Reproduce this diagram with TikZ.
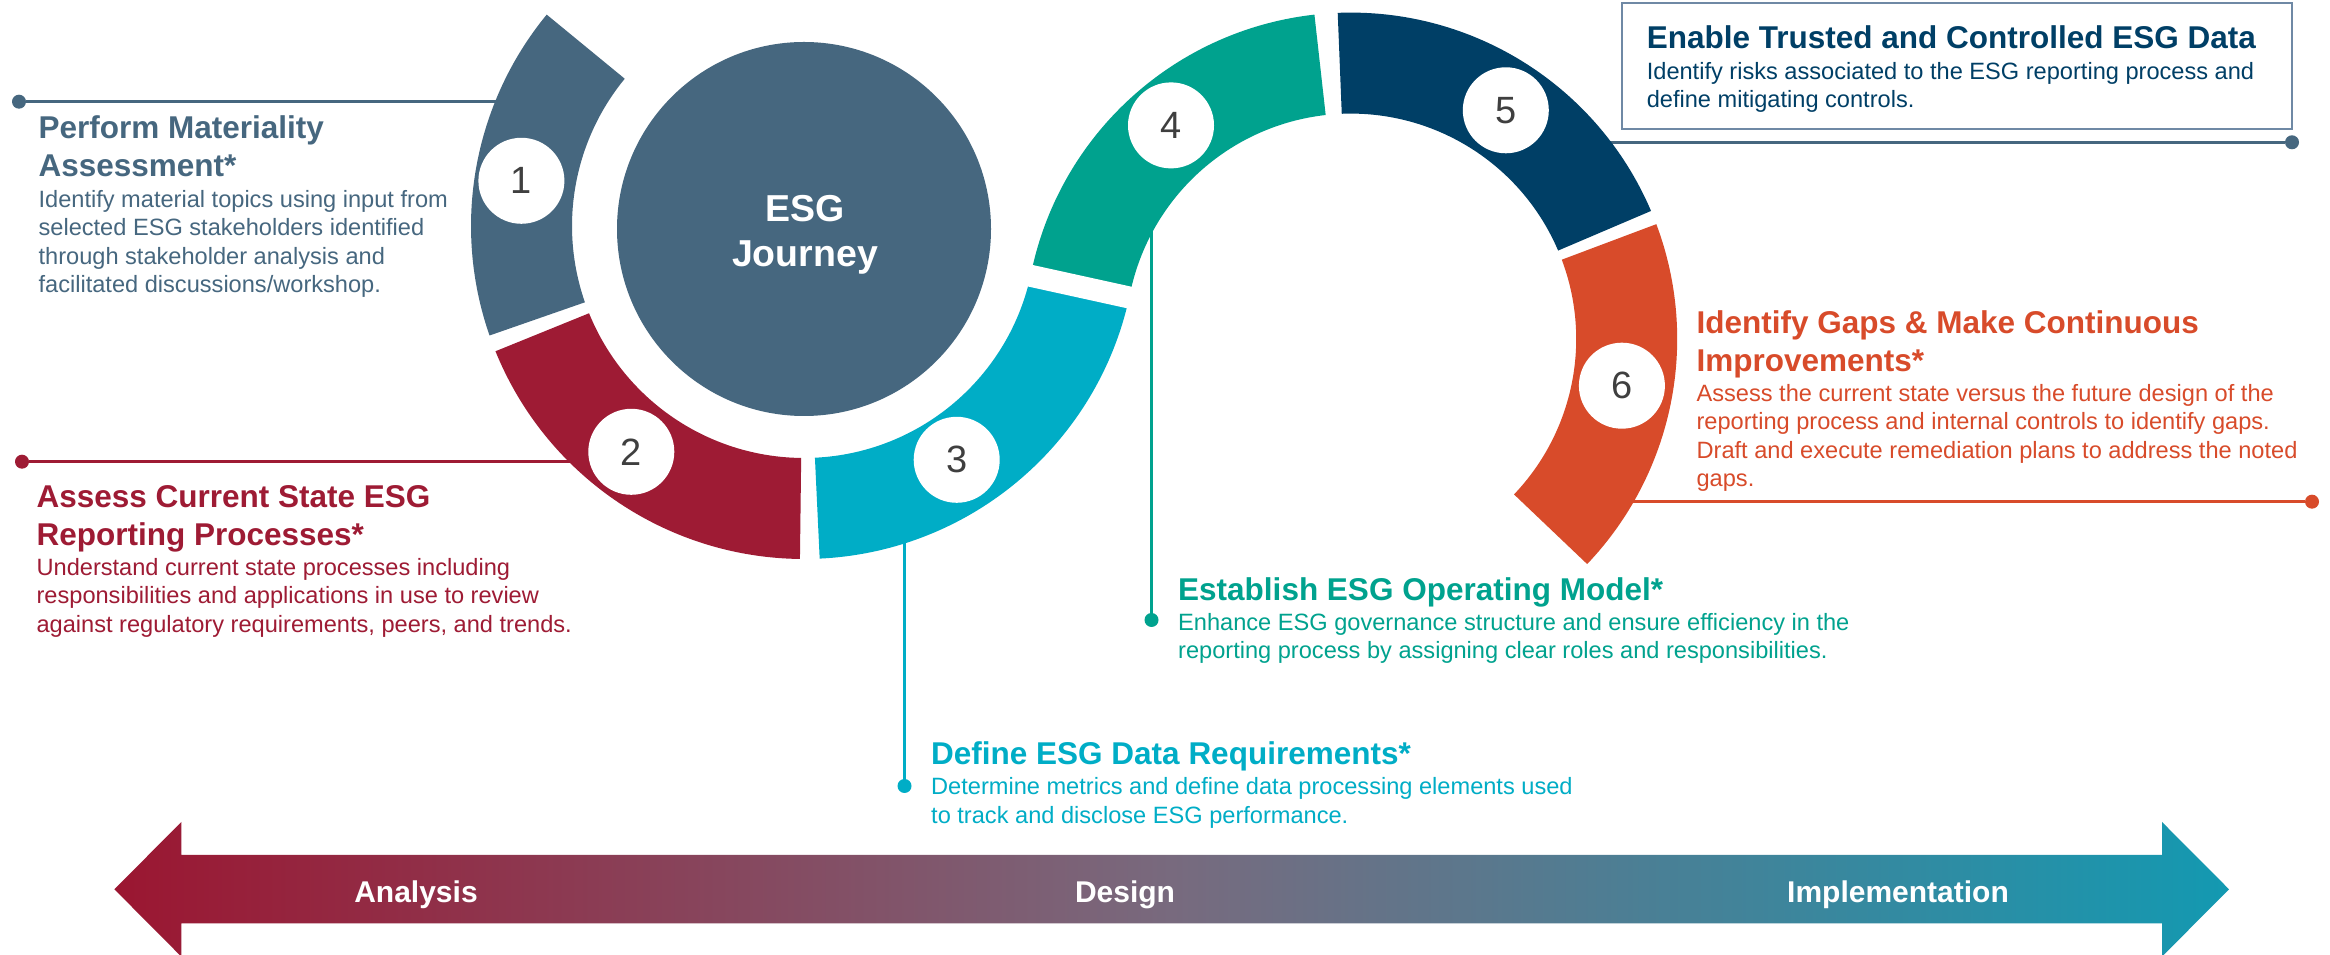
\documentclass[tikz,border=0pt]{standalone}
\usepackage{fontspec}
\setmainfont{Liberation Sans}
\usetikzlibrary{calc}
\definecolor{slate}{HTML}{46677F}
\definecolor{crim}{HTML}{9E1B34}
\definecolor{cyanc}{HTML}{00ADC6}
\definecolor{tealc}{HTML}{00A28E}
\definecolor{navyc}{HTML}{003F66}
\definecolor{orng}{HTML}{D84B2A}
\definecolor{boxc}{HTML}{6F89A5}
\definecolor{numg}{HTML}{3F3F3F}
\definecolor{arL}{HTML}{9B1631}
\definecolor{arM}{HTML}{786A7E}
\definecolor{arR}{HTML}{1399B1}
% #1 colour, #2 centre, #3 inner r, #4 outer r, #5 start angle, #6 end angle
\newcommand\ringseg[6]{\fill[#1] ($(#2)+(#5:#4pt)$) arc[start angle=#5,end angle=#6,radius=#4pt] -- ($(#2)+(#6:#3pt)$) arc[start angle=#6,end angle=#5,radius=#3pt] -- cycle;}
\newcommand\lines[1]{\begin{tabular}[t]{@{}l@{}}#1\end{tabular}}
\begin{document}
\begin{tikzpicture}[x=1pt,y=1pt,
  ttl/.style={anchor=base west, inner sep=0pt, font=\fontsize{31.5}{38.2}\selectfont\bfseries},
  bdy/.style={anchor=base west, inner sep=0pt, font=\fontsize{23.6}{28.3}\selectfont},
  numc/.style={circle, fill=white, minimum size=86pt, inner sep=0pt, text=numg, font=\fontsize{38}{38}\selectfont},
  dotc/.style={circle, minimum size=14pt, inner sep=0pt},
  conn/.style={line width=2.6pt},
  lbl/.style={text=white, inner sep=0pt, anchor=base, font=\fontsize{30}{30}\selectfont\bfseries}
]
\fill[white] (0,0) rectangle (2330,955);
\useasboundingbox (0,0) rectangle (2330,955);
\coordinate (c1) at (804,729);
\coordinate (c2) at (1350.8,616);

% timeline arrow
\path[left color=arL, right color=arR, middle color=arM]
  (114.4,65.7) -- (181.3,133) -- (181.3,100) -- (2162,100) -- (2162,133) -- (2229,65.7)
  -- (2162,-1.6) -- (2162,31.7) -- (181.3,31.7) -- (181.3,-1.6) -- cycle;
\node[lbl] (an) at (416,52.3) {Analysis};
\node[lbl] (de) at (1125,52.3) {Design};
\node[lbl] (im) at (1898,52.3) {Implementation};

% connectors (behind the ring)
\node[dotc, fill=slate] (d1) at (19,853.3) {};
\coordinate (r1) at (520,853.3);
\draw[conn, slate] (r1) -- (d1);
\node[dotc, fill=crim] (d2) at (22,493.3) {};
\coordinate (r2) at (600,493.3);
\draw[conn, crim] (r2) -- (d2);
\node[dotc, fill=cyanc] (d3) at (904.5,169) {};
\coordinate (r3) at (904.5,430);
\draw[conn, cyanc] (r3) -- (d3);
\node[dotc, fill=tealc] (d4) at (1151.5,335) {};
\coordinate (r4) at (1151.5,760);
\draw[conn, tealc] (r4) -- (d4);
\node[dotc, fill=slate] (d5) at (2292,812.7) {};
\coordinate (r5) at (1590,812.7);
\draw[conn, slate] (r5) -- (d5);
\node[dotc, fill=orng] (d6) at (2312,453.3) {};
\coordinate (r6) at (1600,453.3);
\draw[conn, orng] (r6) -- (d6);

% ring segments
\ringseg{slate}{c1}{232}{333}{140.6}{199.2}
\ringseg{crim}{c1}{232}{333}{202.1}{269.3}
\ringseg{cyanc}{c1}{232}{333}{272.7}{348.3}
\ringseg{tealc}{c2}{225.4}{326.4}{168.3}{96.4}
\ringseg{navyc}{c2}{225.4}{326.4}{92.3}{23.1}
\ringseg{orng}{c2}{225.4}{326.4}{20.6}{-43.6}
\draw[white, line width=22pt] ($(c1)+(-12.4:222pt)$) -- ($(c1)+(-12.4:342pt)$);

% centre
\node[circle, fill=slate, minimum size=374pt, inner sep=0pt] (esg) at (804,726) {};
\node[inner sep=0pt, anchor=base, text=white, font=\fontsize{37.5}{45}\selectfont\bfseries] (esgt) at (805,733)
  {\begin{tabular}[t]{@{}c@{}}ESG\\Journey\end{tabular}};

% numbers
\node[numc] (n1) at (521.4,774.2) {1};
\node[numc] (n2) at (631.3,503.2) {2};
\node[numc] (n3) at (956.7,495.2) {3};
\node[numc] (n4) at (1171,829.6) {4};
\node[numc] (n5) at (1505.8,844.7) {5};
\node[numc] (n6) at (1621.9,569.3) {6};

% step 5 box
\draw[boxc, line width=2.5pt] (1622,826) rectangle (2292,952);

% texts
\node[ttl, text=slate] (t1) at (38.4,816.7) {\lines{Perform Materiality\\Assessment*}};
\node[bdy, text=slate] (b1) at (38.4,747.3) {\lines{Identify material topics using input from\\selected ESG stakeholders identified\\through stakeholder analysis and\\facilitated discussions/workshop.}};

\node[ttl, text=crim] (t2) at (36.4,447.3) {\lines{Assess Current State ESG\\Reporting Processes*}};
\node[bdy, text=crim] (b2) at (36.4,379.3) {\lines{Understand current state processes including\\responsibilities and applications in use to review\\against regulatory requirements, peers, and trends.}};

\node[ttl, text=cyanc] (t3) at (931,190.7) {Define ESG Data Requirements*};
\node[bdy, text=cyanc] (b3) at (931,160) {\lines{Determine metrics and define data processing elements used\\to track and disclose ESG performance.}};

\node[ttl, text=tealc] (t4) at (1178,354.3) {Establish ESG Operating Model*};
\node[bdy, text=tealc] (b4) at (1178,324.3) {\lines{Enhance ESG governance structure and ensure efficiency in the\\reporting process by assigning clear roles and responsibilities.}};

\node[ttl, text=navyc] (t5) at (1646.6,906.7) {Enable Trusted and Controlled ESG Data};
\node[bdy, text=navyc] (b5) at (1646.6,875.7) {\lines{Identify risks associated to the ESG reporting process and\\define mitigating controls.}};

\node[ttl, text=orng] (t6) at (1696.4,621.7) {\lines{Identify Gaps \& Make Continuous\\Improvements*}};
\node[bdy, text=orng] (b6) at (1696.4,553.3) {\lines{Assess the current state versus the future design of the\\reporting process and internal controls to identify gaps.\\Draft and execute remediation plans to address the noted\\gaps.}};
\end{tikzpicture}
\end{document}
